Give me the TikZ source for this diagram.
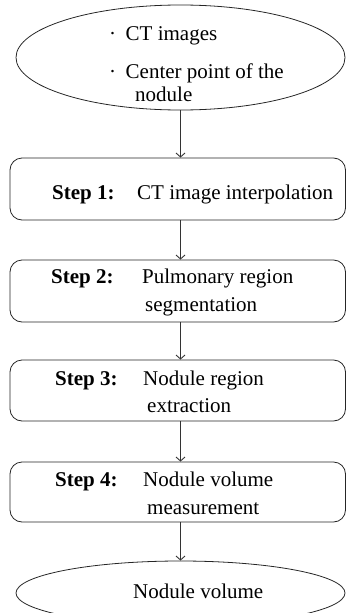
\documentclass[tikz,border=0pt]{standalone}
\usepackage{fontspec}
\setmainfont{Liberation Serif}
\usetikzlibrary{arrows.meta,shapes.geometric}
\begin{document}
\begin{tikzpicture}[x=1pt,y=-1pt,
  stepbox/.style={draw=black!85, line width=0.8pt, rounded corners=12pt, minimum width=335.5pt, inner sep=0pt},
  oval/.style={draw=black!85, ellipse, line width=0.8pt, minimum width=329pt, inner sep=0pt},
  txt/.style={anchor=base west, inner sep=0pt, font=\fontsize{21}{25}\selectfont},
  conn/.style={draw=black!80, line width=0.8pt, -{Straight Barb[length=4pt,width=9pt,line width=0.9pt]}}]
\useasboundingbox (0,0) rectangle (346,613);
% shapes
\node[oval, minimum height=105pt] (in) at (180.5,57.5) {};
\node[stepbox, minimum height=62pt] (s1) at (177.75,189) {};
\node[stepbox, minimum height=62pt] (s2) at (177.75,291) {};
\node[stepbox, minimum height=61pt] (s3) at (177.75,390.5) {};
\node[stepbox, minimum height=60pt] (s4) at (177.75,492) {};
\node[oval, minimum height=64pt] (out) at (180.5,593) {};
% texts
\node[txt] (in1) at (109,40) {·\hspace{9.5pt}CT images};
\node[txt] (in2) at (109,78) {·\hspace{9.5pt}Center point of the};
\node[txt] (in3) at (135,101) {nodule};
\node[txt] (s1a) at (52,199) {\textbf{Step 1:}};
\node[txt] (s1b) at (137,199) {CT image interpolation};
\node[txt] (s2a) at (51,283) {\textbf{Step 2:}};
\node[txt] (s2b) at (142,283) {Pulmonary region};
\node[txt] (s2c) at (145,311) {segmentation};
\node[txt] (s3a) at (55,385) {\textbf{Step 3:}};
\node[txt] (s3b) at (143,385) {Nodule region};
\node[txt] (s3c) at (147,412) {extraction};
\node[txt] (s4a) at (55,486) {\textbf{Step 4:}};
\node[txt] (s4b) at (143,486) {Nodule volume};
\node[txt] (s4c) at (147,514) {measurement};
\node[txt] (outt) at (133,598) {Nodule volume};
% connectors
\draw[conn] (in.south) -- (in.south |- s1.north);
\draw[conn] (in.south |- s1.south) -- (in.south |- s2.north);
\draw[conn] (in.south |- s2.south) -- (in.south |- s3.north);
\draw[conn] (in.south |- s3.south) -- (in.south |- s4.north);
\draw[conn] (in.south |- s4.south) -- (out.north);
\end{tikzpicture}
\end{document}
